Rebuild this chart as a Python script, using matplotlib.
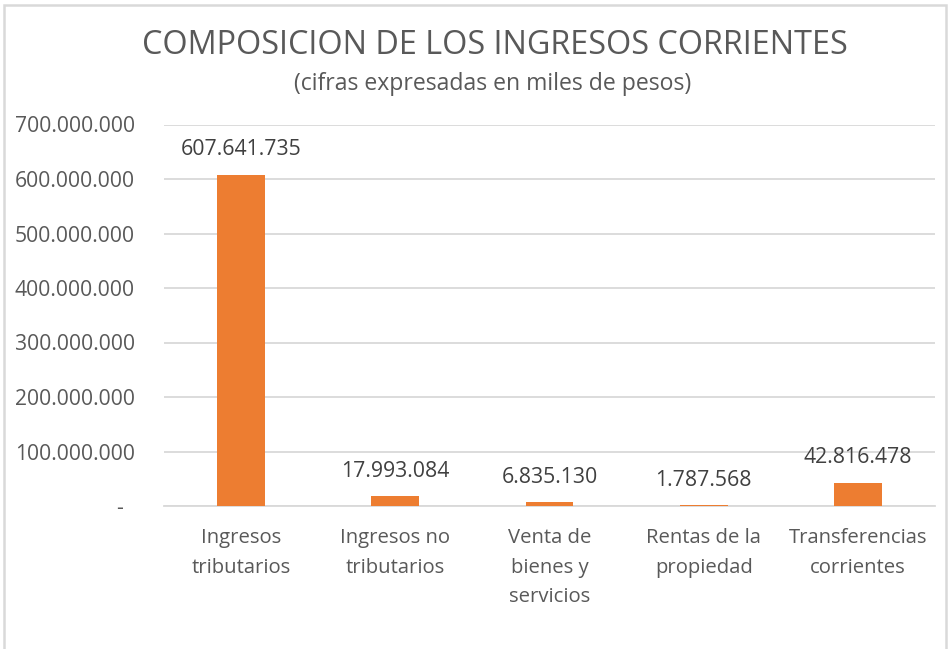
import matplotlib.pyplot as plt
from matplotlib.patches import Rectangle

# ----------------------------------------------------
# DATA
# ----------------------------------------------------
categories = [
    "Ingresos\ntributarios",
    "Ingresos no\ntributarios",
    "Venta de\nbienes y\nservicios",
    "Rentas de la\npropiedad",
    "Transferencias\ncorrientes",
]
values = [607641735, 17993084, 6835130, 1787568, 42816478]
y_ticks = [0, 100000000, 200000000, 300000000, 400000000, 500000000, 600000000, 700000000]

TITLE = "COMPOSICION DE LOS INGRESOS CORRIENTES"
SUBTITLE = "(cifras expresadas en miles de pesos)"

BAR_COLOR = "#ED7D31"
TEXT_COLOR = "#595959"
GRID_COLOR = "#D9D9D9"


def fmt(v):
    # Spanish thousands separator
    return f"{v:,}".replace(",", ".")


def main():
    plt.rcParams["font.family"] = ["Open Sans", "DejaVu Sans"]

    fig = plt.figure(figsize=(9.49, 6.49), dpi=100)
    ax = fig.add_axes([164 / 949, 1 - 506 / 649, (935 - 164) / 949, (506 - 124.5) / 649])

    x = list(range(len(categories)))
    ax.bar(x, values, width=0.31, color=BAR_COLOR, zorder=3)

    for xi, v in zip(x, values):
        ax.annotate(fmt(v), xy=(xi, v), xytext=(0, 18), textcoords="offset points",
                    ha="center", va="center", fontsize=15.3, color="#404040")

    ax.set_xlim(-0.5, len(categories) - 0.5)
    ax.set_ylim(0, 700000000)
    ax.set_yticks(y_ticks)
    ax.set_yticklabels(["-  "] + [fmt(t) for t in y_ticks[1:]])
    ax.set_xticks(x)
    ax.set_xticklabels(categories, linespacing=1.62)

    ax.tick_params(axis="y", length=0, pad=21, labelsize=15.2, labelcolor=TEXT_COLOR)
    ax.tick_params(axis="x", length=0, pad=16, labelsize=14.6, labelcolor=TEXT_COLOR)

    ax.grid(axis="y", color=GRID_COLOR, linewidth=1.3, zorder=0)
    for side in ["top", "right", "left"]:
        ax.spines[side].set_visible(False)
    ax.spines["bottom"].set_color(GRID_COLOR)
    ax.spines["bottom"].set_linewidth(1.3)

    # title block
    fig.text(495 / 949, 1 - 45 / 649, TITLE, ha="center", va="center",
             fontsize=23.3, color=TEXT_COLOR)
    fig.text(493 / 949, 1 - 84 / 649, SUBTITLE, ha="center", va="center",
             fontsize=16.6, color=TEXT_COLOR)

    # chart area border
    fig.patches.append(Rectangle((3.5 / 949, -0.05), 942 / 949, 1.05 - 5 / 649,
                                 transform=fig.transFigure, fill=False,
                                 edgecolor=GRID_COLOR, linewidth=1.8))

    plt.savefig("out.png", dpi=100)
    plt.close()


if __name__ == "__main__":
    main()
